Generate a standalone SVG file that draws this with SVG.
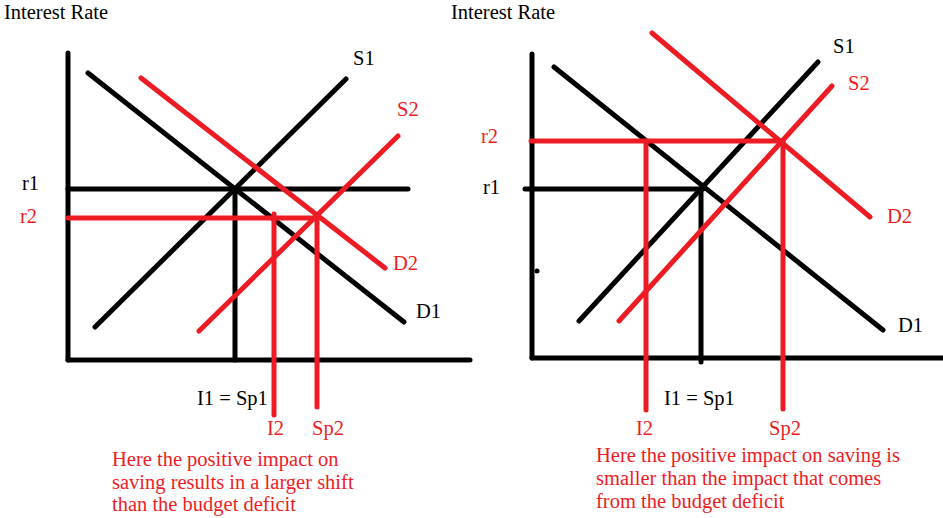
<svg xmlns="http://www.w3.org/2000/svg" width="943" height="518" viewBox="0 0 943 518">
<style>
.k{stroke:#000;stroke-width:5;stroke-linecap:round;fill:none}
.r{stroke:#ED1C24;stroke-width:5;stroke-linecap:round;fill:none}
text{font-family:"Liberation Serif","Times New Roman",serif;font-size:20.5px}
.tk{fill:#000}
.tr{fill:#ED1C24}
</style>
<rect width="943" height="518" fill="#fff"/>
<g id="left-panel">
<g id="left-axes">
<line class="k" x1="68" y1="53" x2="68" y2="360"/>
<line class="k" x1="68" y1="360" x2="470" y2="360"/>
<text class="tk" x="4" y="19">Interest Rate</text>
</g>
<g id="left-connectors">
<line class="k" x1="68" y1="189" x2="408" y2="189"/>
<line class="k" x1="235" y1="189" x2="235" y2="360"/>
<line class="k" x1="88" y1="73" x2="404" y2="322"/>
<line class="k" x1="95" y1="327" x2="346" y2="79"/>
<line class="r" x1="68" y1="218" x2="317" y2="218"/>
<line class="r" x1="274" y1="214" x2="274" y2="415"/>
<line class="r" x1="317" y1="218" x2="317" y2="407"/>
<line class="r" x1="141" y1="78" x2="385" y2="268"/>
<line class="r" x1="199" y1="331" x2="398" y2="136"/>
</g>
<g id="left-labels">
<text class="tk" x="22" y="190">r1</text>
<text class="tr" x="20" y="223">r2</text>
<text class="tk" x="353" y="65">S1</text>
<text class="tr" x="397" y="116">S2</text>
<text class="tr" x="393" y="270">D2</text>
<text class="tk" x="416" y="318">D1</text>
<text class="tk" x="197" y="405">I1 = Sp1</text>
<text class="tr" x="267" y="435">I2</text>
<text class="tr" x="312" y="435">Sp2</text>
<text class="tr" x="112" y="466">Here the positive impact on</text>
<text class="tr" x="112" y="489">saving results in a larger shift</text>
<text class="tr" x="112" y="511">than the budget deficit</text>
</g>
</g>
<g id="right-panel">
<g id="right-axes">
<line class="k" x1="532" y1="54" x2="532" y2="358"/>
<line class="k" x1="532" y1="358" x2="943" y2="358"/>
<circle cx="537" cy="271" r="2.5" fill="#000"/>
<text class="tk" x="451" y="19">Interest Rate</text>
</g>
<g id="right-connectors">
<line class="k" x1="525" y1="189" x2="703" y2="189"/>
<line class="k" x1="701" y1="189" x2="701" y2="362"/>
<line class="k" x1="554" y1="67" x2="883" y2="330"/>
<line class="k" x1="579" y1="321" x2="818" y2="62"/>
<line class="r" x1="531" y1="141" x2="783" y2="141"/>
<line class="r" x1="646" y1="141" x2="646" y2="410"/>
<line class="r" x1="783" y1="141" x2="783" y2="409"/>
<line class="r" x1="652" y1="33" x2="870" y2="217"/>
<line class="r" x1="619" y1="321" x2="832" y2="86"/>
</g>
<g id="right-labels">
<text class="tk" x="483" y="194">r1</text>
<text class="tr" x="481" y="143">r2</text>
<text class="tk" x="833" y="53">S1</text>
<text class="tr" x="848" y="90">S2</text>
<text class="tr" x="887" y="223">D2</text>
<text class="tk" x="898" y="332">D1</text>
<text class="tk" x="664" y="405">I1 = Sp1</text>
<text class="tr" x="636" y="435">I2</text>
<text class="tr" x="769" y="435">Sp2</text>
<text class="tr" x="596" y="462">Here the positive impact on saving is</text>
<text class="tr" x="596" y="485">smaller than the impact that comes</text>
<text class="tr" x="596" y="508">from the budget deficit</text>
</g>
</g>
</svg>
